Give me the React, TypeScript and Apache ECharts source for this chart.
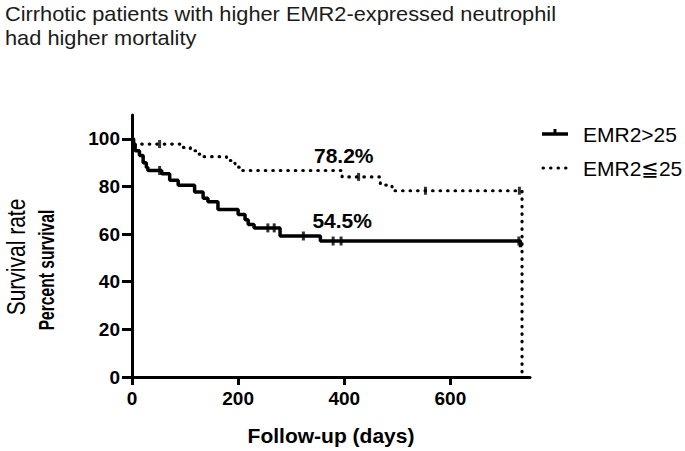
import React, { useEffect, useRef } from "react";
import * as echarts from "echarts";

const titleLines = ["Cirrhotic patients with higher EMR2-expressed neutrophil", "had higher mortality"];
const seriesNames = ["EMR2>25", "EMR2≦25"];
const xTicks = [0, 200, 400, 600];
const yTicks = [0, 20, 40, 60, 80, 100];

// Kaplan-Meier steps: [day, percent survival]
const highSteps: [number, number][] = [
  [0, 100], [3, 97.8], [6, 95], [14, 93], [21, 90], [27, 88], [30, 86.7],
  [56, 85.3], [71, 82.6], [87, 80.5], [118, 77.7], [134, 75], [143, 73.6],
  [162, 70.3], [200, 68.2], [213, 66], [219, 64], [230, 62.6], [279, 59.2],
  [355, 57.1], [732, 54.5],
];
const lowSteps: [number, number][] = [
  [0, 100], [3, 97.8], [96, 96.4], [110, 95], [124, 93.6], [128, 92.5],
  [178, 90.9], [194, 89.5], [200, 88.1], [207, 86.7], [396, 84], [468, 80.6],
  [490, 78.2], [735, 78.2], [735, 0],
];
const highCensored: [number, number][] = [
  [52, 86.7], [256, 62.6], [268, 62.6], [323, 59.2], [379, 57.1], [394, 57.1], [729, 57.1],
];
const lowCensored: [number, number][] = [
  [52, 97.8], [427, 84], [553, 78.2], [730, 78.2],
];
const annotations: { text: string; coord: [number, number] }[] = [
  { text: "78.2%", coord: [399, 93] },
  { text: "54.5%", coord: [396, 65.8] },
];

const FONT = "'Liberation Sans', Arial, 'DejaVu Sans', sans-serif";
const DOT: [number, number] = [0.5, 7];

export default function App() {
  const ref = useRef<HTMLDivElement>(null);
  useEffect(() => {
    if (!ref.current) return;
    const chart = echarts.init(ref.current, undefined, { renderer: "svg" });
    const tickLabel = { fontSize: 19, fontWeight: "bold" as const, color: "#000", fontFamily: FONT };
    const annLabel = (t: string) => ({
      show: true, formatter: t, fontSize: 21, fontWeight: "bold" as const, color: "#000", fontFamily: FONT, position: "inside" as const,
    });
    chart.setOption({
      animation: false,
      grid: { left: 132, right: 155, top: 115, bottom: 70 },
      xAxis: {
        type: "value",
        min: 0,
        max: 750,
        name: "Follow-up (days)",
        nameLocation: "middle",
        nameGap: 48,
        nameTextStyle: { fontSize: 21, fontWeight: "bold", color: "#000", fontFamily: FONT },
        axisLine: { show: true, lineStyle: { color: "#000", width: 3 } },
        axisTick: { show: true, length: 8, lineStyle: { color: "#000", width: 3 }, customValues: xTicks },
        axisLabel: { ...tickLabel, margin: 12, customValues: xTicks },
        splitLine: { show: false },
      },
      yAxis: {
        type: "value",
        min: 0,
        max: 110,
        axisLine: { show: true, onZero: false, lineStyle: { color: "#000", width: 3 } },
        axisTick: { show: true, length: 10, lineStyle: { color: "#000", width: 3 }, customValues: yTicks },
        axisLabel: { ...tickLabel, margin: 12, customValues: yTicks },
        splitLine: { show: false },
      },
      graphic: [
        {
          type: "text",
          x: 5,
          y: 2,
          scaleX: 1.09,
          style: {
            text: titleLines.join("\n"),
            font: `20px ${FONT}`,
            lineHeight: 24,
            fill: "#1a1a1a",
          },
        },
        {
          type: "text",
          x: 16,
          y: 257,
          rotation: Math.PI / 2,
          scaleX: 0.84,
          style: {
            text: "Survival rate",
            font: `25px ${FONT}`,
            fill: "#000",
            textAlign: "center",
            textVerticalAlign: "middle",
          },
        },
        {
          type: "text",
          x: 47,
          y: 270,
          rotation: Math.PI / 2,
          scaleX: 0.71,
          style: {
            text: "Percent survival",
            font: `bold 22px ${FONT}`,
            fill: "#000",
            textAlign: "center",
            textVerticalAlign: "middle",
          },
        },
        // legend
        { type: "line", shape: { x1: 542, y1: 134, x2: 568, y2: 134 }, style: { stroke: "#000", lineWidth: 3.5 } },
        { type: "line", shape: { x1: 555, y1: 129, x2: 555, y2: 134 }, style: { stroke: "#000", lineWidth: 3 } },
        { type: "line", shape: { x1: 543, y1: 168, x2: 568, y2: 168 }, style: { stroke: "#000", lineWidth: 3, lineDash: DOT, lineCap: "round" } },
        {
          type: "text", x: 583, y: 134,
          style: { text: seriesNames[0], font: `21px ${FONT}`, fill: "#000", textVerticalAlign: "middle" },
        },
        {
          type: "text", x: 583, y: 168,
          style: { text: seriesNames[1], font: `21px ${FONT}`, fill: "#000", textVerticalAlign: "middle" },
        },
      ],
      series: [
        {
          name: seriesNames[0],
          type: "line",
          step: "end",
          data: highSteps,
          symbol: "none",
          lineStyle: { color: "#000", width: 3.5 },
          itemStyle: { color: "#000" },
          markPoint: {
            symbol: "circle",
            symbolSize: 0,
            data: [{ coord: annotations[1].coord, label: annLabel(annotations[1].text) }],
          },
          z: 3,
        },
        {
          name: seriesNames[1],
          type: "line",
          step: "end",
          data: lowSteps,
          symbol: "none",
          lineStyle: { color: "#000", width: 3.2, type: DOT, cap: "round" },
          itemStyle: { color: "#000" },
          markPoint: {
            symbol: "circle",
            symbolSize: 0,
            data: [{ coord: annotations[0].coord, label: annLabel(annotations[0].text) }],
          },
          z: 3,
        },
        {
          type: "scatter",
          data: highCensored,
          symbol: "rect",
          symbolSize: [3, 9],
          itemStyle: { color: "#000" },
          z: 4,
        },
        {
          type: "scatter",
          data: lowCensored,
          symbol: "rect",
          symbolSize: [3, 8],
          itemStyle: { color: "#000" },
          z: 4,
        },
      ],
    });
    return () => chart.dispose();
  }, []);
  return <div ref={ref} style={{ width: 685, height: 451, position: "absolute", left: 0, top: 0 }} />;
}
